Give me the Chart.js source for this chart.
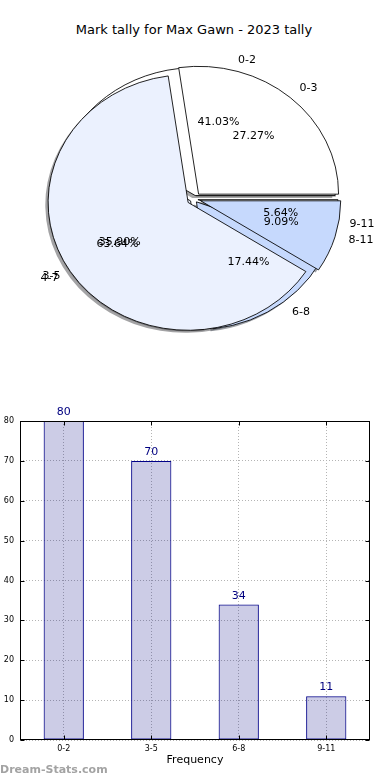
<!DOCTYPE html>
<html>
<head>
<meta charset="utf-8">
<script src="https://cdn.jsdelivr.net/npm/chart.js@4.4.1/dist/chart.umd.min.js"></script>
<style>
  body { margin: 0; background: #fff; width: 390px; height: 780px; position: relative; overflow: hidden; font-family: "DejaVu Sans", sans-serif; }
  canvas { position: absolute; left: 0; }
  #title { position: absolute; top: 21px; left: 0; width: 388px; text-align: center; font-size: 13px; line-height: 18px; color: #000; }
  #mark { position: absolute; left: 0; top: 763px; font-size: 11px; font-weight: bold; color: #a3a3a3; line-height: 14px; }
</style>
</head>
<body>
<div id="title">Mark tally for Max Gawn - 2023 tally</div>
<canvas id="pieBack" width="390" height="398" style="top:0"></canvas>
<canvas id="pieFront" width="390" height="398" style="top:0"></canvas>
<canvas id="bars" width="390" height="380" style="top:400px"></canvas>
<div id="mark">Dream-Stats.com</div>
<script>
// marks per game, grouped in 3s (first pie + the bars)
const tallyRanges = ["0-2", "3-5", "6-8", "9-11"];
const tallyCounts = [80, 70, 34, 11];
// same games grouped in 4s (second pie, drawn over the first)
const wideRanges = ["0-3", "4-7", "8-11"];
const wideCounts = [3, 7, 1];
// bar chart y axis
const yMax = 80;
const yStep = 10;

const sliceColors = ["#ffffff", "#ebf1fe", "#c6d9fd"];
const PIE_R = 140;      // horizontal radius
const PIE_SY = 0.913;   // pie is a bit squashed vertically

let backChart = null;
let frontChart = null;

function rgbOf(hex) {
  const n = parseInt(hex.slice(1), 16);
  return [(n >> 16) & 255, (n >> 8) & 255, n & 255];
}

function midAngle(arc) {
  return (arc.startAngle + arc.endAngle) / 2;
}

// old matplotlib style shadow: 30% of face colour, half transparent, shifted left/down
function drawShadows(ctx, chart) {
  const explode = chart.options.plugins.mplPie.explode;
  chart.getDatasetMeta(0).data.forEach(arc => {
    const m = midAngle(arc);
    const r = arc.outerRadius;
    const x = arc.x + Math.cos(m) * explode - 0.02 * r;
    const y = arc.y + Math.sin(m) * explode + 0.02 * r;
    const [cr, cg, cb] = rgbOf(arc.options.backgroundColor);
    ctx.fillStyle = `rgba(${0.3 * cr},${0.3 * cg},${0.3 * cb},0.5)`;
    ctx.beginPath();
    ctx.moveTo(x, y);
    ctx.arc(x, y, r, arc.startAngle, arc.endAngle);
    ctx.closePath();
    ctx.fill();
  });
}

function drawLabels(ctx, chart) {
  const explode = chart.options.plugins.mplPie.explode;
  const arcs = chart.getDatasetMeta(0).data;
  const values = chart.data.datasets[0].data;
  const total = values.reduce((a, b) => a + b, 0);
  ctx.save();
  ctx.font = '11px "DejaVu Sans"';
  ctx.fillStyle = "#000";
  ctx.textBaseline = "middle";
  arcs.forEach((arc, i) => {
    const m = midAngle(arc);
    const c = Math.cos(m), s = Math.sin(m);
    const r = arc.outerRadius;
    const at = k => [arc.x + c * (explode + k * r), arc.y + s * (explode + k * r) * PIE_SY];
    let [lx, ly] = at(1.1);
    ctx.textAlign = c > 0 ? "left" : "right";
    ctx.fillText(chart.data.labels[i], lx, ly);
    [lx, ly] = at(0.6);
    ctx.textAlign = "center";
    ctx.fillText((values[i] / total * 100).toFixed(2) + "%", lx, ly);
  });
  ctx.restore();
}

const mplPie = {
  id: "mplPie",
  // explode: push every wedge out along its middle angle
  afterUpdate(chart, args, opts) {
    chart.getDatasetMeta(0).data.forEach(arc => {
      if (arc.$exploded) return;
      const baseDraw = arc.draw;
      arc.draw = function (ctx, area) {
        const m = midAngle(this);
        ctx.save();
        ctx.translate(Math.cos(m) * opts.explode, Math.sin(m) * opts.explode);
        baseDraw.call(this, ctx, area);
        ctx.restore();
      };
      arc.$exploded = true;
    });
  },
  beforeDatasetsDraw(chart, args, opts) {
    const arc0 = chart.getDatasetMeta(0).data[0];
    const ctx = chart.ctx;
    ctx.save();
    ctx.translate(arc0.x, arc0.y);
    ctx.scale(1, PIE_SY);
    ctx.translate(-arc0.x, -arc0.y);
    // all shadows sit under all wedges, so the back pie draws both sets
    if (opts.role === "back") {
      if (frontChart) drawShadows(ctx, frontChart);
      drawShadows(ctx, chart);
    }
  },
  afterDatasetsDraw(chart, args, opts) {
    chart.ctx.restore();
    if (opts.role === "front") {
      if (backChart) drawLabels(chart.ctx, backChart);
      drawLabels(chart.ctx, chart);
    }
  }
};

function pieConfig(labels, values, explode, role) {
  const colors = labels.map((_, i) => sliceColors[i % sliceColors.length]);
  // matplotlib goes counter-clockwise from 3 o'clock, Chart.js clockwise: reverse
  return {
    type: "pie",
    data: {
      labels: labels.slice().reverse(),
      datasets: [{
        data: values.slice().reverse(),
        backgroundColor: colors.slice().reverse(),
        borderColor: "#000",
        borderWidth: 0.9,
        borderJoinStyle: "miter",
        clip: false
      }]
    },
    options: {
      responsive: false,
      animation: false,
      events: [],
      rotation: 90,
      radius: PIE_R,
      layout: { padding: { right: 2 } },
      plugins: {
        legend: { display: false },
        tooltip: { enabled: false },
        mplPie: { explode: explode, role: role }
      }
    },
    plugins: [mplPie]
  };
}

backChart = new Chart(document.getElementById("pieBack"), pieConfig(tallyRanges, tallyCounts, 4, "back"));
frontChart = new Chart(document.getElementById("pieFront"), pieConfig(wideRanges, wideCounts, 7, "front"));
backChart.draw();

// bar chart extras: frame, inward ticks, value labels
const barDeco = {
  id: "barDeco",
  afterDatasetsDraw(chart) {
    const { ctx, chartArea: a, scales } = chart;
    const L = Math.round(a.left) + 0.5, R = Math.round(a.right) - 0.5;
    const T = Math.round(a.top) + 0.5, B = Math.round(a.bottom) - 0.5;
    ctx.save();
    ctx.strokeStyle = "#000";
    ctx.lineWidth = 1;
    ctx.beginPath();
    scales.y.ticks.forEach(t => {
      const y = Math.round(scales.y.getPixelForValue(t.value)) + 0.5;
      ctx.moveTo(L, y); ctx.lineTo(L + 4, y);
      ctx.moveTo(R, y); ctx.lineTo(R - 4, y);
    });
    scales.x.ticks.forEach((t, i) => {
      const x = Math.round(scales.x.getPixelForTick(i)) + 0.5;
      ctx.moveTo(x, B); ctx.lineTo(x, B - 4);
      ctx.moveTo(x, T); ctx.lineTo(x, T + 4);
    });
    ctx.stroke();
    ctx.strokeRect(L, T, R - L, B - T);

    ctx.font = '11px "DejaVu Sans"';
    ctx.fillStyle = "#000080";
    ctx.textAlign = "center";
    ctx.textBaseline = "bottom";
    const values = chart.data.datasets[0].data;
    chart.getDatasetMeta(0).data.forEach((bar, i) => {
      ctx.fillText(String(values[i]), bar.x, bar.y - 3);
    });
    ctx.restore();
  }
};

new Chart(document.getElementById("bars"), {
  type: "bar",
  data: {
    labels: tallyRanges,
    datasets: [{
      data: tallyCounts,
      backgroundColor: "rgba(0,0,128,0.2)",
      borderColor: "#000088",
      borderWidth: 1,
      borderSkipped: false,
      barPercentage: 0.46,
      categoryPercentage: 1
    }]
  },
  options: {
    responsive: false,
    animation: false,
    events: [],
    layout: { padding: { top: 21, right: 20, left: 0, bottom: 0 } },
    plugins: { legend: { display: false }, tooltip: { enabled: false } },
    scales: {
      x: {
        offset: true,
        grid: { offset: false, drawTicks: false, color: "#b4b4b4", lineWidth: 1 },
        border: { display: false, dash: [1, 2] },
        ticks: { font: { family: "DejaVu Sans", size: 8 }, color: "#000", padding: 4, maxRotation: 0 },
        title: { display: true, text: "Frequency", font: { family: "DejaVu Sans", size: 11 }, color: "#000", padding: { top: 0, bottom: 13 } },
        afterFit: s => { s.height = 40; }
      },
      y: {
        min: 0,
        max: yMax,
        grid: { drawTicks: false, color: "#b4b4b4", lineWidth: 1 },
        border: { display: false, dash: [1, 2] },
        ticks: { stepSize: yStep, font: { family: "DejaVu Sans", size: 8 }, color: "#000", padding: 6 },
        afterFit: s => { s.width = 20; }
      }
    }
  },
  plugins: [barDeco]
});
</script>
</body>
</html>
